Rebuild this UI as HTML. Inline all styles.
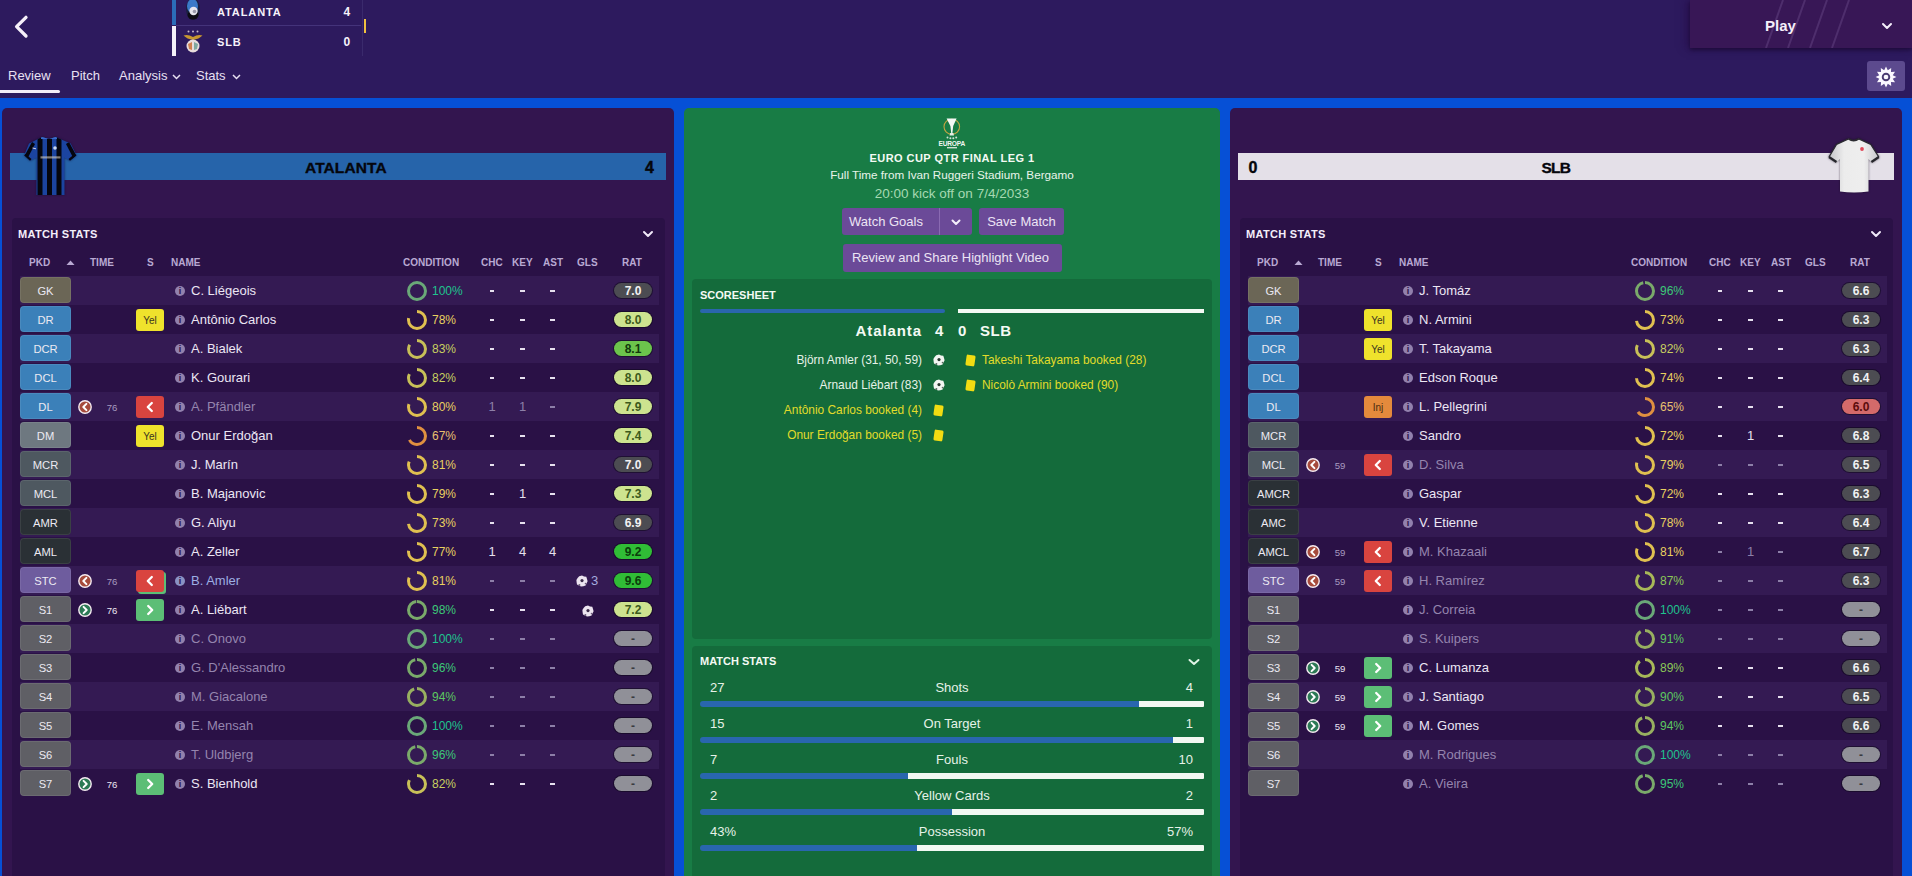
<!DOCTYPE html>
<html><head><meta charset="utf-8"><style>
*{margin:0;padding:0}
html,body{width:1912px;height:876px;overflow:hidden}
body{position:relative;background:#2d1a5e;font-family:"Liberation Sans",sans-serif;color:#ece6f4}
.ab{position:absolute}
.bd{position:absolute;width:51px;height:26px;border-radius:4px;font-size:11.2px;line-height:28px;text-align:center;color:#eceaf2;box-shadow:inset 0 0 0 1px rgba(255,255,255,0.08)}
.tm{position:absolute;width:24px;height:29px;line-height:29px;font-size:9.6px;text-align:center;color:#b0a4c6}
.sb{position:absolute;width:28px;height:22px;border-radius:3px;font-size:10px;line-height:24px;text-align:center}
.sb svg{display:block}
.inf{position:absolute;width:10px;height:10px;border-radius:50%;background:#9281ad;color:#2a1146;font-size:9px;font-weight:bold;line-height:10px;text-align:center}
.nm{position:absolute;height:29px;line-height:29px;font-size:13px;white-space:nowrap}
.cd{position:absolute;height:29px;line-height:29px;font-size:12px;white-space:nowrap}
.st{position:absolute;width:30px;height:29px;line-height:29px;font-size:13px;text-align:center}
.pl{position:absolute;width:38px;height:15px;border-radius:8px;font-size:12px;font-weight:bold;line-height:17px;text-align:center;box-shadow:0 0 0 1px rgba(10,5,20,0.5)}
.hd{position:absolute;font-size:11px;font-weight:bold;line-height:16px;color:#f4eefa;white-space:nowrap;letter-spacing:0.3px}
.ev{position:absolute;left:684px;width:238px;text-align:right;font-size:11.9px;line-height:16px;white-space:nowrap}
.evr{position:absolute;left:982px;font-size:11.9px;line-height:16px;white-space:nowrap}
.ch{position:absolute;font-size:10px;font-weight:bold;line-height:14px;color:#b9a9d3;white-space:nowrap}
</style></head><body>
<!-- header -->
<svg class="ab" style="left:12px;top:14px" width="18" height="26" viewBox="0 0 18 26"><path d="M14 3.3 L4.6 12.6 L14 22" fill="none" stroke="#f6f0fa" stroke-width="3.3" stroke-linecap="round" stroke-linejoin="round"/></svg>
<div class="ab" style="left:172px;top:0;width:4px;height:25px;background:#2b6cb8"></div>
<div class="ab" style="left:172px;top:26px;width:4px;height:30px;background:#f4f0f8"></div>
<div class="ab" style="left:176px;top:25px;width:185px;height:1px;background:#44337a"></div>
<div class="ab" style="left:362px;top:0;width:1px;height:56px;background:#3a2a6c"></div>
<div class="ab" style="left:364px;top:19px;width:2px;height:14px;background:#f0c040"></div>
<svg class="ab" style="left:184px;top:0" width="18" height="22" viewBox="0 0 18 22">
<ellipse cx="9" cy="9" rx="7" ry="11" fill="#1a2040"/>
<ellipse cx="8.5" cy="6" rx="5.5" ry="7" fill="#3a7ac8"/>
<ellipse cx="9" cy="15" rx="5.5" ry="4.5" fill="#0c0c14"/>
<circle cx="9.5" cy="11" r="4.2" fill="#e6e6ee"/>
<circle cx="10.5" cy="11.5" r="1.8" fill="#9a9aaa"/>
</svg>
<svg class="ab" style="left:182px;top:29px" width="22" height="25" viewBox="0 0 22 25">
<circle cx="6.5" cy="2.5" r="1" fill="#c8b8c8"/><circle cx="11" cy="2.5" r="1" fill="#c8b8c8"/><circle cx="15.5" cy="2.5" r="1" fill="#c8b8c8"/>
<path d="M1.5 6.5 Q6 5 11 8 Q16 5 20.5 6.5 Q17 10 11 11 Q5 10 1.5 6.5 Z" fill="#c89830"/>
<circle cx="11" cy="17" r="6.5" fill="#e8dcdc"/>
<path d="M6 15 L10 13 L10 21 L7 20 Z" fill="#d08050"/>
<path d="M12 13 L16 15 L15 20 L12 21 Z" fill="#80a8a0"/>
</svg>
<div class="ab" style="left:217px;top:4.2px;font-size:11px;font-weight:bold;line-height:16px;color:#f6f2fa;letter-spacing:0.9px">ATALANTA</div>
<div class="ab" style="left:217px;top:34.4px;font-size:11px;font-weight:bold;line-height:16px;color:#f6f2fa;letter-spacing:0.9px">SLB</div>
<div class="ab" style="left:343.5px;top:4.1px;font-size:12px;font-weight:bold;line-height:16px;color:#f6f2fa">4</div>
<div class="ab" style="left:343.5px;top:34.4px;font-size:12px;font-weight:bold;line-height:16px;color:#f6f2fa">0</div>
<div class="ab" style="left:8px;top:67px;font-size:13px;line-height:18px;color:#e8e0f2">Review</div>
<div class="ab" style="left:0;top:90px;width:60px;height:3px;background:#f4eefa;border-radius:0 2px 2px 0"></div>
<div class="ab" style="left:71px;top:67px;font-size:13px;line-height:18px;color:#e8e0f2">Pitch</div>
<div class="ab" style="left:119px;top:67px;font-size:13px;line-height:18px;color:#e8e0f2">Analysis</div>
<svg class="ab" style="left:172px;top:74px" width="9" height="6" viewBox="0 0 9 6"><path d="M1 1 L4.5 4.5 L8 1" fill="none" stroke="#e8e0f2" stroke-width="1.5"/></svg>
<div class="ab" style="left:196px;top:67px;font-size:13px;line-height:18px;color:#e8e0f2">Stats</div>
<svg class="ab" style="left:232px;top:74px" width="9" height="6" viewBox="0 0 9 6"><path d="M1 1 L4.5 4.5 L8 1" fill="none" stroke="#e8e0f2" stroke-width="1.5"/></svg>
<!-- play box -->
<div class="ab" style="left:1690px;top:0;width:222px;height:48px;background:#381756;box-shadow:0 2px 4px rgba(20,5,40,0.6),-4px 0 8px rgba(40,10,70,0.5);overflow:hidden">
<svg width="222" height="48"><g stroke="rgba(190,160,225,0.17)" stroke-width="2"><line x1="76" y1="48" x2="93" y2="0"/><line x1="98" y1="48" x2="115" y2="0"/><line x1="120" y1="48" x2="137" y2="0"/><line x1="142" y1="48" x2="159" y2="0"/></g></svg>
</div>
<div class="ab" style="left:1765px;top:17px;font-size:15px;font-weight:bold;line-height:18px;color:#f4eefa">Play</div>
<svg class="ab" style="left:1881px;top:21px" width="12" height="10" viewBox="0 0 12 10"><path d="M2 3 L6 7 L10 3" fill="none" stroke="#f4eefa" stroke-width="2" stroke-linecap="round" stroke-linejoin="round"/></svg>
<div class="ab" style="left:1867px;top:61px;width:38px;height:30px;border-radius:3px;background:#5c4a8e"></div>
<svg class="ab" style="left:1875px;top:65.5px" width="22" height="22" viewBox="0 0 22 22"><path id="gear" fill="#fbf8ff" d="M11.00 0.60 L12.81 4.24 L16.20 1.99 L15.95 6.05 L20.01 5.80 L17.76 9.19 L21.40 11.00 L17.76 12.81 L20.01 16.20 L15.95 15.95 L16.20 20.01 L12.81 17.76 L11.00 21.40 L9.19 17.76 L5.80 20.01 L6.05 15.95 L1.99 16.20 L4.24 12.81 L0.60 11.00 L4.24 9.19 L1.99 5.80 L6.05 6.05 L5.80 1.99 L9.19 4.24 Z"/><circle cx="11" cy="11" r="3.3" fill="none" stroke="#4a3a72" stroke-width="1.9"/></svg>
<!-- blue band -->
<div class="ab" style="left:0;top:98px;width:1912px;height:778px;background:#0650d6"></div>
<!-- left panel -->
<div class="ab" style="left:2px;top:108px;width:672px;height:780px;background:#33154f;border-radius:5px"></div>
<div class="ab" style="left:10px;top:153px;width:656px;height:27px;background:#2664aa"></div>
<div class="ab" style="left:305px;top:158.7px;font-size:15.5px;font-weight:bold;line-height:18px;color:#05060c;letter-spacing:0.1px;-webkit-text-stroke:0.35px #05060c">ATALANTA</div>
<div class="ab" style="left:645px;top:158.9px;font-size:16px;font-weight:bold;line-height:18px;color:#05060c;-webkit-text-stroke:0.4px #05060c">4</div>
<div class="ab" style="left:12px;top:218px;width:653px;height:700px;background:#2a1146;border-radius:4px"></div>
<div class="hd" style="left:18px;top:226px">MATCH STATS</div>
<svg class="ab" style="left:642px;top:229px" width="12" height="10" viewBox="0 0 12 10"><path d="M2 3 L6 7 L10 3" fill="none" stroke="#f0e8f8" stroke-width="2" stroke-linecap="round" stroke-linejoin="round"/></svg>
<div class="ch" style="left:29px;top:256px">PKD</div>
<div class="ch" style="left:90px;top:256px">TIME</div>
<div class="ch" style="left:147px;top:256px">S</div>
<div class="ch" style="left:171px;top:256px">NAME</div>
<div class="ch" style="left:403px;top:256px">CONDITION</div>
<div class="ch" style="left:481px;top:256px">CHC</div>
<div class="ch" style="left:512px;top:256px">KEY</div>
<div class="ch" style="left:543px;top:256px">AST</div>
<div class="ch" style="left:577px;top:256px">GLS</div>
<div class="ch" style="left:622px;top:256px">RAT</div>
<svg class="ab" style="left:66px;top:259px" width="9" height="7" viewBox="0 0 9 7"><path d="M0.5 6 L4.5 1.5 L8.5 6 Z" fill="#b9a9d3"/></svg>
<div class="ab" style="left:20px;top:276px;width:639px;height:29px;background:#341a53"></div>
<div class="bd" style="left:20px;top:277px;background:#6b6656">GK</div>
<div class="inf" style="left:175px;top:285.5px">i</div>
<div class="nm" style="left:191px;top:276px;color:#ece6f4">C. Liégeois</div>
<svg class="ab" style="left:407px;top:280.5px" width="20" height="20" viewBox="0 0 20 20"><circle cx="10" cy="10" r="8.5" fill="none" stroke="#6aa878" stroke-width="3" stroke-dasharray="53.41 53.41" transform="rotate(-90 10 10)"/></svg>
<div class="cd" style="left:432px;top:276.8px;color:#1fc38e">100%</div>
<div class="ab" style="left:489.8px;top:290.3px;width:4.5px;height:1.4px;background:#e6e0ee"></div>
<div class="ab" style="left:520.3px;top:290.3px;width:4.5px;height:1.4px;background:#e6e0ee"></div>
<div class="ab" style="left:550.3px;top:290.3px;width:4.5px;height:1.4px;background:#e6e0ee"></div>
<div class="pl" style="left:614px;top:283px;background:#4c4c52;color:#f2f2f2">7.0</div>
<div class="bd" style="left:20px;top:306px;background:#3b80b9">DR</div>
<div class="sb" style="left:136px;top:309px;background:#efe22c;color:#3a3520">Yel</div>
<div class="inf" style="left:175px;top:314.5px">i</div>
<div class="nm" style="left:191px;top:305px;color:#ece6f4">Antônio Carlos</div>
<svg class="ab" style="left:407px;top:309.5px" width="20" height="20" viewBox="0 0 20 20"><circle cx="10" cy="10" r="8.5" fill="none" stroke="#e0c050" stroke-width="3" stroke-dasharray="41.66 53.41" transform="rotate(-90 10 10)"/></svg>
<div class="cd" style="left:432px;top:305.8px;color:#e8d060">78%</div>
<div class="ab" style="left:489.8px;top:319.3px;width:4.5px;height:1.4px;background:#e6e0ee"></div>
<div class="ab" style="left:520.3px;top:319.3px;width:4.5px;height:1.4px;background:#e6e0ee"></div>
<div class="ab" style="left:550.3px;top:319.3px;width:4.5px;height:1.4px;background:#e6e0ee"></div>
<div class="pl" style="left:614px;top:312px;background:#cde38f;color:#3d5a1c">8.0</div>
<div class="ab" style="left:20px;top:334px;width:639px;height:29px;background:#341a53"></div>
<div class="bd" style="left:20px;top:335px;background:#3b80b9">DCR</div>
<div class="inf" style="left:175px;top:343.5px">i</div>
<div class="nm" style="left:191px;top:334px;color:#ece6f4">A. Bialek</div>
<svg class="ab" style="left:407px;top:338.5px" width="20" height="20" viewBox="0 0 20 20"><circle cx="10" cy="10" r="8.5" fill="none" stroke="#c8c058" stroke-width="3" stroke-dasharray="44.33 53.41" transform="rotate(-90 10 10)"/></svg>
<div class="cd" style="left:432px;top:334.8px;color:#c8d060">83%</div>
<div class="ab" style="left:489.8px;top:348.3px;width:4.5px;height:1.4px;background:#e6e0ee"></div>
<div class="ab" style="left:520.3px;top:348.3px;width:4.5px;height:1.4px;background:#e6e0ee"></div>
<div class="ab" style="left:550.3px;top:348.3px;width:4.5px;height:1.4px;background:#e6e0ee"></div>
<div class="pl" style="left:614px;top:341px;background:#6cc44c;color:#12380c">8.1</div>
<div class="bd" style="left:20px;top:364px;background:#3b80b9">DCL</div>
<div class="inf" style="left:175px;top:372.5px">i</div>
<div class="nm" style="left:191px;top:363px;color:#ece6f4">K. Gourari</div>
<svg class="ab" style="left:407px;top:367.5px" width="20" height="20" viewBox="0 0 20 20"><circle cx="10" cy="10" r="8.5" fill="none" stroke="#c8c058" stroke-width="3" stroke-dasharray="43.79 53.41" transform="rotate(-90 10 10)"/></svg>
<div class="cd" style="left:432px;top:363.8px;color:#c8d060">82%</div>
<div class="ab" style="left:489.8px;top:377.3px;width:4.5px;height:1.4px;background:#e6e0ee"></div>
<div class="ab" style="left:520.3px;top:377.3px;width:4.5px;height:1.4px;background:#e6e0ee"></div>
<div class="ab" style="left:550.3px;top:377.3px;width:4.5px;height:1.4px;background:#e6e0ee"></div>
<div class="pl" style="left:614px;top:370px;background:#cde38f;color:#3d5a1c">8.0</div>
<div class="ab" style="left:20px;top:392px;width:639px;height:29px;background:#341a53"></div>
<div class="bd" style="left:20px;top:393px;background:#3b80b9">DL</div>
<svg class="ab" style="left:78px;top:399.5px" width="14" height="14" viewBox="0 0 14 14"><circle cx="7" cy="7" r="6.2" fill="#a64b3c" stroke="#f4eaf0" stroke-width="1.4"/><path d="M8.4 3.9 L5.3 7 L8.4 10.1" fill="none" stroke="#fff" stroke-width="2" stroke-linecap="round" stroke-linejoin="round"/></svg>
<div class="tm" style="left:100px;top:392.5px;color:#a89ac0">76</div>
<div class="sb" style="left:136px;top:396px;background:#d9443f"><svg width="28" height="22" viewBox="0 0 28 22"><path d="M15.8 7 L11.8 11 L15.8 15" fill="none" stroke="#fff" stroke-width="2.3" stroke-linecap="round" stroke-linejoin="round"/></svg></div>
<div class="inf" style="left:175px;top:401.5px">i</div>
<div class="nm" style="left:191px;top:392px;color:#9585ae">A. Pfändler</div>
<svg class="ab" style="left:407px;top:396.5px" width="20" height="20" viewBox="0 0 20 20"><circle cx="10" cy="10" r="8.5" fill="none" stroke="#e0c050" stroke-width="3" stroke-dasharray="42.73 53.41" transform="rotate(-90 10 10)"/></svg>
<div class="cd" style="left:432px;top:392.8px;color:#e8d060">80%</div>
<div class="st" style="left:477px;top:392px;color:#8d7fa8">1</div>
<div class="st" style="left:507.5px;top:392px;color:#8d7fa8">1</div>
<div class="ab" style="left:550.3px;top:406.3px;width:4.5px;height:1.4px;background:#8d7fa8"></div>
<div class="pl" style="left:614px;top:399px;background:#cde38f;color:#3d5a1c">7.9</div>
<div class="bd" style="left:20px;top:422px;background:#6e7880">DM</div>
<div class="sb" style="left:136px;top:425px;background:#efe22c;color:#3a3520">Yel</div>
<div class="inf" style="left:175px;top:430.5px">i</div>
<div class="nm" style="left:191px;top:421px;color:#ece6f4">Onur Erdoğan</div>
<svg class="ab" style="left:407px;top:425.5px" width="20" height="20" viewBox="0 0 20 20"><circle cx="10" cy="10" r="8.5" fill="none" stroke="#e09040" stroke-width="3" stroke-dasharray="35.78 53.41" transform="rotate(-90 10 10)"/></svg>
<div class="cd" style="left:432px;top:421.8px;color:#e8c070">67%</div>
<div class="ab" style="left:489.8px;top:435.3px;width:4.5px;height:1.4px;background:#e6e0ee"></div>
<div class="ab" style="left:520.3px;top:435.3px;width:4.5px;height:1.4px;background:#e6e0ee"></div>
<div class="ab" style="left:550.3px;top:435.3px;width:4.5px;height:1.4px;background:#e6e0ee"></div>
<div class="pl" style="left:614px;top:428px;background:#cde38f;color:#3d5a1c">7.4</div>
<div class="ab" style="left:20px;top:450px;width:639px;height:29px;background:#341a53"></div>
<div class="bd" style="left:20px;top:451px;background:#4e5860">MCR</div>
<div class="inf" style="left:175px;top:459.5px">i</div>
<div class="nm" style="left:191px;top:450px;color:#ece6f4">J. Marín</div>
<svg class="ab" style="left:407px;top:454.5px" width="20" height="20" viewBox="0 0 20 20"><circle cx="10" cy="10" r="8.5" fill="none" stroke="#e0c050" stroke-width="3" stroke-dasharray="43.26 53.41" transform="rotate(-90 10 10)"/></svg>
<div class="cd" style="left:432px;top:450.8px;color:#e8d060">81%</div>
<div class="ab" style="left:489.8px;top:464.3px;width:4.5px;height:1.4px;background:#e6e0ee"></div>
<div class="ab" style="left:520.3px;top:464.3px;width:4.5px;height:1.4px;background:#e6e0ee"></div>
<div class="ab" style="left:550.3px;top:464.3px;width:4.5px;height:1.4px;background:#e6e0ee"></div>
<div class="pl" style="left:614px;top:457px;background:#4c4c52;color:#f2f2f2">7.0</div>
<div class="bd" style="left:20px;top:480px;background:#4e5860">MCL</div>
<div class="inf" style="left:175px;top:488.5px">i</div>
<div class="nm" style="left:191px;top:479px;color:#ece6f4">B. Majanovic</div>
<svg class="ab" style="left:407px;top:483.5px" width="20" height="20" viewBox="0 0 20 20"><circle cx="10" cy="10" r="8.5" fill="none" stroke="#e0c050" stroke-width="3" stroke-dasharray="42.19 53.41" transform="rotate(-90 10 10)"/></svg>
<div class="cd" style="left:432px;top:479.8px;color:#e8d060">79%</div>
<div class="ab" style="left:489.8px;top:493.3px;width:4.5px;height:1.4px;background:#e6e0ee"></div>
<div class="st" style="left:507.5px;top:479px;color:#e6e0ee">1</div>
<div class="ab" style="left:550.3px;top:493.3px;width:4.5px;height:1.4px;background:#e6e0ee"></div>
<div class="pl" style="left:614px;top:486px;background:#cde38f;color:#3d5a1c">7.3</div>
<div class="ab" style="left:20px;top:508px;width:639px;height:29px;background:#341a53"></div>
<div class="bd" style="left:20px;top:509px;background:#2a3035">AMR</div>
<div class="inf" style="left:175px;top:517.5px">i</div>
<div class="nm" style="left:191px;top:508px;color:#ece6f4">G. Aliyu</div>
<svg class="ab" style="left:407px;top:512.5px" width="20" height="20" viewBox="0 0 20 20"><circle cx="10" cy="10" r="8.5" fill="none" stroke="#e0c050" stroke-width="3" stroke-dasharray="38.99 53.41" transform="rotate(-90 10 10)"/></svg>
<div class="cd" style="left:432px;top:508.8px;color:#e8d060">73%</div>
<div class="ab" style="left:489.8px;top:522.3px;width:4.5px;height:1.4px;background:#e6e0ee"></div>
<div class="ab" style="left:520.3px;top:522.3px;width:4.5px;height:1.4px;background:#e6e0ee"></div>
<div class="ab" style="left:550.3px;top:522.3px;width:4.5px;height:1.4px;background:#e6e0ee"></div>
<div class="pl" style="left:614px;top:515px;background:#4c4c52;color:#f2f2f2">6.9</div>
<div class="bd" style="left:20px;top:538px;background:#2a3035">AML</div>
<div class="inf" style="left:175px;top:546.5px">i</div>
<div class="nm" style="left:191px;top:537px;color:#ece6f4">A. Zeller</div>
<svg class="ab" style="left:407px;top:541.5px" width="20" height="20" viewBox="0 0 20 20"><circle cx="10" cy="10" r="8.5" fill="none" stroke="#e0c050" stroke-width="3" stroke-dasharray="41.12 53.41" transform="rotate(-90 10 10)"/></svg>
<div class="cd" style="left:432px;top:537.8px;color:#e8d060">77%</div>
<div class="st" style="left:477px;top:537px;color:#e6e0ee">1</div>
<div class="st" style="left:507.5px;top:537px;color:#e6e0ee">4</div>
<div class="st" style="left:537.5px;top:537px;color:#e6e0ee">4</div>
<div class="pl" style="left:614px;top:544px;background:#30bd36;color:#0b3d0b">9.2</div>
<div class="ab" style="left:20px;top:566px;width:639px;height:29px;background:#341a53"></div>
<div class="bd" style="left:20px;top:567px;background:#6e5c9e">STC</div>
<svg class="ab" style="left:78px;top:573.5px" width="14" height="14" viewBox="0 0 14 14"><circle cx="7" cy="7" r="6.2" fill="#a64b3c" stroke="#f4eaf0" stroke-width="1.4"/><path d="M8.4 3.9 L5.3 7 L8.4 10.1" fill="none" stroke="#fff" stroke-width="2" stroke-linecap="round" stroke-linejoin="round"/></svg>
<div class="tm" style="left:100px;top:566.5px;color:#a89ac0">76</div>
<div class="sb" style="left:138px;top:572px;background:#5cbe76"></div><div class="sb" style="left:136px;top:570px;background:#d9443f"><svg width="28" height="22" viewBox="0 0 28 22"><path d="M15.8 7 L11.8 11 L15.8 15" fill="none" stroke="#fff" stroke-width="2.3" stroke-linecap="round" stroke-linejoin="round"/></svg></div>
<div class="inf" style="left:175px;top:575.5px;background:#8a92c4">i</div>
<div class="nm" style="left:191px;top:566px;color:#9cafe4">B. Amler</div>
<svg class="ab" style="left:407px;top:570.5px" width="20" height="20" viewBox="0 0 20 20"><circle cx="10" cy="10" r="8.5" fill="none" stroke="#e0c050" stroke-width="3" stroke-dasharray="43.26 53.41" transform="rotate(-90 10 10)"/></svg>
<div class="cd" style="left:432px;top:566.8px;color:#e8d060">81%</div>
<div class="ab" style="left:489.8px;top:580.3px;width:4.5px;height:1.4px;background:#8d7fa8"></div>
<div class="ab" style="left:520.3px;top:580.3px;width:4.5px;height:1.4px;background:#8d7fa8"></div>
<div class="ab" style="left:550.3px;top:580.3px;width:4.5px;height:1.4px;background:#8d7fa8"></div>
<svg class="ab" style="left:576px;top:574.5px" width="12" height="12" viewBox="0 0 12 12"><path d="M6 0.6 L8 1.4 L10.3 1.7 L11 4 L11.6 6.2 L10.6 8.3 L9.6 10.5 L7.3 11.2 L5 11.6 L3 10.6 L1 9.5 L0.6 7.2 L0.4 5 L1.6 3 L3.2 1.2 Z" fill="#ece4f0"/><circle cx="6" cy="5.6" r="1.6" fill="#3a2a48"/><circle cx="3.4" cy="10" r="1" fill="#6a5a78"/><circle cx="9.6" cy="8.6" r="0.9" fill="#6a5a78"/></svg>
<div class="st" style="left:580px;top:566;width:30px;text-align:left;padding-left:11px;box-sizing:border-box;color:#a4acdf;top:566px">3</div>
<div class="pl" style="left:614px;top:573px;background:#30bd36;color:#0b3d0b">9.6</div>
<div class="bd" style="left:20px;top:596px;background:#5f5f65">S1</div>
<svg class="ab" style="left:78px;top:602.5px" width="14" height="14" viewBox="0 0 14 14"><circle cx="7" cy="7" r="6.2" fill="#2c7a55" stroke="#f4eaf0" stroke-width="1.4"/><path d="M5.6 3.9 L8.7 7 L5.6 10.1" fill="none" stroke="#fff" stroke-width="2" stroke-linecap="round" stroke-linejoin="round"/></svg>
<div class="tm" style="left:100px;top:595.5px;color:#ece6f2">76</div>
<div class="sb" style="left:136px;top:599px;background:#5cbe76"><svg width="28" height="22" viewBox="0 0 28 22"><path d="M12.2 7 L16.2 11 L12.2 15" fill="none" stroke="#fff" stroke-width="2.3" stroke-linecap="round" stroke-linejoin="round"/></svg></div>
<div class="inf" style="left:175px;top:604.5px">i</div>
<div class="nm" style="left:191px;top:595px;color:#ece6f4">A. Liébart</div>
<svg class="ab" style="left:407px;top:599.5px" width="20" height="20" viewBox="0 0 20 20"><circle cx="10" cy="10" r="8.5" fill="none" stroke="#7aaa6a" stroke-width="3" stroke-dasharray="52.34 53.41" transform="rotate(-90 10 10)"/></svg>
<div class="cd" style="left:432px;top:595.8px;color:#3cc878">98%</div>
<div class="ab" style="left:489.8px;top:609.3px;width:4.5px;height:1.4px;background:#e6e0ee"></div>
<div class="ab" style="left:520.3px;top:609.3px;width:4.5px;height:1.4px;background:#e6e0ee"></div>
<div class="ab" style="left:550.3px;top:609.3px;width:4.5px;height:1.4px;background:#e6e0ee"></div>
<svg class="ab" style="left:581.5px;top:604.5px" width="12" height="12" viewBox="0 0 12 12"><path d="M6 0.6 L8 1.4 L10.3 1.7 L11 4 L11.6 6.2 L10.6 8.3 L9.6 10.5 L7.3 11.2 L5 11.6 L3 10.6 L1 9.5 L0.6 7.2 L0.4 5 L1.6 3 L3.2 1.2 Z" fill="#ece4f0"/><circle cx="6" cy="5.6" r="1.6" fill="#3a2a48"/><circle cx="3.4" cy="10" r="1" fill="#6a5a78"/><circle cx="9.6" cy="8.6" r="0.9" fill="#6a5a78"/></svg>
<div class="pl" style="left:614px;top:602px;background:#cde38f;color:#3d5a1c">7.2</div>
<div class="ab" style="left:20px;top:624px;width:639px;height:29px;background:#341a53"></div>
<div class="bd" style="left:20px;top:625px;background:#5f5f65">S2</div>
<div class="inf" style="left:175px;top:633.5px">i</div>
<div class="nm" style="left:191px;top:624px;color:#9585ae">C. Onovo</div>
<svg class="ab" style="left:407px;top:628.5px" width="20" height="20" viewBox="0 0 20 20"><circle cx="10" cy="10" r="8.5" fill="none" stroke="#6aa878" stroke-width="3" stroke-dasharray="53.41 53.41" transform="rotate(-90 10 10)"/></svg>
<div class="cd" style="left:432px;top:624.8px;color:#1fc38e">100%</div>
<div class="ab" style="left:489.8px;top:638.3px;width:4.5px;height:1.4px;background:#8d7fa8"></div>
<div class="ab" style="left:520.3px;top:638.3px;width:4.5px;height:1.4px;background:#8d7fa8"></div>
<div class="ab" style="left:550.3px;top:638.3px;width:4.5px;height:1.4px;background:#8d7fa8"></div>
<div class="pl" style="left:614px;top:631px;background:#909098;color:#3a3a40">-</div>
<div class="bd" style="left:20px;top:654px;background:#5f5f65">S3</div>
<div class="inf" style="left:175px;top:662.5px">i</div>
<div class="nm" style="left:191px;top:653px;color:#9585ae">G. D'Alessandro</div>
<svg class="ab" style="left:407px;top:657.5px" width="20" height="20" viewBox="0 0 20 20"><circle cx="10" cy="10" r="8.5" fill="none" stroke="#7aaa6a" stroke-width="3" stroke-dasharray="51.27 53.41" transform="rotate(-90 10 10)"/></svg>
<div class="cd" style="left:432px;top:653.8px;color:#3cc878">96%</div>
<div class="ab" style="left:489.8px;top:667.3px;width:4.5px;height:1.4px;background:#8d7fa8"></div>
<div class="ab" style="left:520.3px;top:667.3px;width:4.5px;height:1.4px;background:#8d7fa8"></div>
<div class="ab" style="left:550.3px;top:667.3px;width:4.5px;height:1.4px;background:#8d7fa8"></div>
<div class="pl" style="left:614px;top:660px;background:#909098;color:#3a3a40">-</div>
<div class="ab" style="left:20px;top:682px;width:639px;height:29px;background:#341a53"></div>
<div class="bd" style="left:20px;top:683px;background:#5f5f65">S4</div>
<div class="inf" style="left:175px;top:691.5px">i</div>
<div class="nm" style="left:191px;top:682px;color:#9585ae">M. Giacalone</div>
<svg class="ab" style="left:407px;top:686.5px" width="20" height="20" viewBox="0 0 20 20"><circle cx="10" cy="10" r="8.5" fill="none" stroke="#98b060" stroke-width="3" stroke-dasharray="50.20 53.41" transform="rotate(-90 10 10)"/></svg>
<div class="cd" style="left:432px;top:682.8px;color:#5cc860">94%</div>
<div class="ab" style="left:489.8px;top:696.3px;width:4.5px;height:1.4px;background:#8d7fa8"></div>
<div class="ab" style="left:520.3px;top:696.3px;width:4.5px;height:1.4px;background:#8d7fa8"></div>
<div class="ab" style="left:550.3px;top:696.3px;width:4.5px;height:1.4px;background:#8d7fa8"></div>
<div class="pl" style="left:614px;top:689px;background:#909098;color:#3a3a40">-</div>
<div class="bd" style="left:20px;top:712px;background:#5f5f65">S5</div>
<div class="inf" style="left:175px;top:720.5px">i</div>
<div class="nm" style="left:191px;top:711px;color:#9585ae">E. Mensah</div>
<svg class="ab" style="left:407px;top:715.5px" width="20" height="20" viewBox="0 0 20 20"><circle cx="10" cy="10" r="8.5" fill="none" stroke="#6aa878" stroke-width="3" stroke-dasharray="53.41 53.41" transform="rotate(-90 10 10)"/></svg>
<div class="cd" style="left:432px;top:711.8px;color:#1fc38e">100%</div>
<div class="ab" style="left:489.8px;top:725.3px;width:4.5px;height:1.4px;background:#8d7fa8"></div>
<div class="ab" style="left:520.3px;top:725.3px;width:4.5px;height:1.4px;background:#8d7fa8"></div>
<div class="ab" style="left:550.3px;top:725.3px;width:4.5px;height:1.4px;background:#8d7fa8"></div>
<div class="pl" style="left:614px;top:718px;background:#909098;color:#3a3a40">-</div>
<div class="ab" style="left:20px;top:740px;width:639px;height:29px;background:#341a53"></div>
<div class="bd" style="left:20px;top:741px;background:#5f5f65">S6</div>
<div class="inf" style="left:175px;top:749.5px">i</div>
<div class="nm" style="left:191px;top:740px;color:#9585ae">T. Uldbjerg</div>
<svg class="ab" style="left:407px;top:744.5px" width="20" height="20" viewBox="0 0 20 20"><circle cx="10" cy="10" r="8.5" fill="none" stroke="#7aaa6a" stroke-width="3" stroke-dasharray="51.27 53.41" transform="rotate(-90 10 10)"/></svg>
<div class="cd" style="left:432px;top:740.8px;color:#3cc878">96%</div>
<div class="ab" style="left:489.8px;top:754.3px;width:4.5px;height:1.4px;background:#8d7fa8"></div>
<div class="ab" style="left:520.3px;top:754.3px;width:4.5px;height:1.4px;background:#8d7fa8"></div>
<div class="ab" style="left:550.3px;top:754.3px;width:4.5px;height:1.4px;background:#8d7fa8"></div>
<div class="pl" style="left:614px;top:747px;background:#909098;color:#3a3a40">-</div>
<div class="bd" style="left:20px;top:770px;background:#5f5f65">S7</div>
<svg class="ab" style="left:78px;top:776.5px" width="14" height="14" viewBox="0 0 14 14"><circle cx="7" cy="7" r="6.2" fill="#2c7a55" stroke="#f4eaf0" stroke-width="1.4"/><path d="M5.6 3.9 L8.7 7 L5.6 10.1" fill="none" stroke="#fff" stroke-width="2" stroke-linecap="round" stroke-linejoin="round"/></svg>
<div class="tm" style="left:100px;top:769.5px;color:#ece6f2">76</div>
<div class="sb" style="left:136px;top:773px;background:#5cbe76"><svg width="28" height="22" viewBox="0 0 28 22"><path d="M12.2 7 L16.2 11 L12.2 15" fill="none" stroke="#fff" stroke-width="2.3" stroke-linecap="round" stroke-linejoin="round"/></svg></div>
<div class="inf" style="left:175px;top:778.5px">i</div>
<div class="nm" style="left:191px;top:769px;color:#ece6f4">S. Bienhold</div>
<svg class="ab" style="left:407px;top:773.5px" width="20" height="20" viewBox="0 0 20 20"><circle cx="10" cy="10" r="8.5" fill="none" stroke="#c8c058" stroke-width="3" stroke-dasharray="43.79 53.41" transform="rotate(-90 10 10)"/></svg>
<div class="cd" style="left:432px;top:769.8px;color:#c8d060">82%</div>
<div class="ab" style="left:489.8px;top:783.3px;width:4.5px;height:1.4px;background:#e6e0ee"></div>
<div class="ab" style="left:520.3px;top:783.3px;width:4.5px;height:1.4px;background:#e6e0ee"></div>
<div class="ab" style="left:550.3px;top:783.3px;width:4.5px;height:1.4px;background:#e6e0ee"></div>
<div class="pl" style="left:614px;top:776px;background:#909098;color:#3a3a40">-</div>
<!-- right panel -->
<div class="ab" style="left:1230px;top:108px;width:672px;height:780px;background:#33154f;border-radius:5px"></div>
<div class="ab" style="left:1238px;top:153px;width:656px;height:27px;background:#e4e0e8"></div>
<div class="ab" style="left:1248.5px;top:158.9px;font-size:16px;font-weight:bold;line-height:18px;color:#05060c;-webkit-text-stroke:0.4px #05060c">0</div>
<div class="ab" style="left:1541.5px;top:158.7px;font-size:15.5px;font-weight:bold;line-height:18px;color:#05060c;letter-spacing:-0.8px;-webkit-text-stroke:0.35px #05060c">SLB</div>
<div class="ab" style="left:1240px;top:218px;width:653px;height:700px;background:#2a1146;border-radius:4px"></div>
<div class="hd" style="left:1246px;top:226px">MATCH STATS</div>
<svg class="ab" style="left:1870px;top:229px" width="12" height="10" viewBox="0 0 12 10"><path d="M2 3 L6 7 L10 3" fill="none" stroke="#f0e8f8" stroke-width="2" stroke-linecap="round" stroke-linejoin="round"/></svg>
<div class="ch" style="left:1257px;top:256px">PKD</div>
<div class="ch" style="left:1318px;top:256px">TIME</div>
<div class="ch" style="left:1375px;top:256px">S</div>
<div class="ch" style="left:1399px;top:256px">NAME</div>
<div class="ch" style="left:1631px;top:256px">CONDITION</div>
<div class="ch" style="left:1709px;top:256px">CHC</div>
<div class="ch" style="left:1740px;top:256px">KEY</div>
<div class="ch" style="left:1771px;top:256px">AST</div>
<div class="ch" style="left:1805px;top:256px">GLS</div>
<div class="ch" style="left:1850px;top:256px">RAT</div>
<svg class="ab" style="left:1294px;top:259px" width="9" height="7" viewBox="0 0 9 7"><path d="M0.5 6 L4.5 1.5 L8.5 6 Z" fill="#b9a9d3"/></svg>
<div class="ab" style="left:1248px;top:276px;width:639px;height:29px;background:#341a53"></div>
<div class="bd" style="left:1248px;top:277px;background:#6b6656">GK</div>
<div class="inf" style="left:1403px;top:285.5px">i</div>
<div class="nm" style="left:1419px;top:276px;color:#ece6f4">J. Tomáz</div>
<svg class="ab" style="left:1635px;top:280.5px" width="20" height="20" viewBox="0 0 20 20"><circle cx="10" cy="10" r="8.5" fill="none" stroke="#7aaa6a" stroke-width="3" stroke-dasharray="51.27 53.41" transform="rotate(-90 10 10)"/></svg>
<div class="cd" style="left:1660px;top:276.8px;color:#3cc878">96%</div>
<div class="ab" style="left:1717.8px;top:290.3px;width:4.5px;height:1.4px;background:#e6e0ee"></div>
<div class="ab" style="left:1748.3px;top:290.3px;width:4.5px;height:1.4px;background:#e6e0ee"></div>
<div class="ab" style="left:1778.3px;top:290.3px;width:4.5px;height:1.4px;background:#e6e0ee"></div>
<div class="pl" style="left:1842px;top:283px;background:#4c4c52;color:#f2f2f2">6.6</div>
<div class="bd" style="left:1248px;top:306px;background:#3b80b9">DR</div>
<div class="sb" style="left:1364px;top:309px;background:#efe22c;color:#3a3520">Yel</div>
<div class="inf" style="left:1403px;top:314.5px">i</div>
<div class="nm" style="left:1419px;top:305px;color:#ece6f4">N. Armini</div>
<svg class="ab" style="left:1635px;top:309.5px" width="20" height="20" viewBox="0 0 20 20"><circle cx="10" cy="10" r="8.5" fill="none" stroke="#e0c050" stroke-width="3" stroke-dasharray="38.99 53.41" transform="rotate(-90 10 10)"/></svg>
<div class="cd" style="left:1660px;top:305.8px;color:#e8d060">73%</div>
<div class="ab" style="left:1717.8px;top:319.3px;width:4.5px;height:1.4px;background:#e6e0ee"></div>
<div class="ab" style="left:1748.3px;top:319.3px;width:4.5px;height:1.4px;background:#e6e0ee"></div>
<div class="ab" style="left:1778.3px;top:319.3px;width:4.5px;height:1.4px;background:#e6e0ee"></div>
<div class="pl" style="left:1842px;top:312px;background:#4c4c52;color:#f2f2f2">6.3</div>
<div class="ab" style="left:1248px;top:334px;width:639px;height:29px;background:#341a53"></div>
<div class="bd" style="left:1248px;top:335px;background:#3b80b9">DCR</div>
<div class="sb" style="left:1364px;top:338px;background:#efe22c;color:#3a3520">Yel</div>
<div class="inf" style="left:1403px;top:343.5px">i</div>
<div class="nm" style="left:1419px;top:334px;color:#ece6f4">T. Takayama</div>
<svg class="ab" style="left:1635px;top:338.5px" width="20" height="20" viewBox="0 0 20 20"><circle cx="10" cy="10" r="8.5" fill="none" stroke="#c8c058" stroke-width="3" stroke-dasharray="43.79 53.41" transform="rotate(-90 10 10)"/></svg>
<div class="cd" style="left:1660px;top:334.8px;color:#c8d060">82%</div>
<div class="ab" style="left:1717.8px;top:348.3px;width:4.5px;height:1.4px;background:#e6e0ee"></div>
<div class="ab" style="left:1748.3px;top:348.3px;width:4.5px;height:1.4px;background:#e6e0ee"></div>
<div class="ab" style="left:1778.3px;top:348.3px;width:4.5px;height:1.4px;background:#e6e0ee"></div>
<div class="pl" style="left:1842px;top:341px;background:#4c4c52;color:#f2f2f2">6.3</div>
<div class="bd" style="left:1248px;top:364px;background:#3b80b9">DCL</div>
<div class="inf" style="left:1403px;top:372.5px">i</div>
<div class="nm" style="left:1419px;top:363px;color:#ece6f4">Edson Roque</div>
<svg class="ab" style="left:1635px;top:367.5px" width="20" height="20" viewBox="0 0 20 20"><circle cx="10" cy="10" r="8.5" fill="none" stroke="#e0c050" stroke-width="3" stroke-dasharray="39.52 53.41" transform="rotate(-90 10 10)"/></svg>
<div class="cd" style="left:1660px;top:363.8px;color:#e8d060">74%</div>
<div class="ab" style="left:1717.8px;top:377.3px;width:4.5px;height:1.4px;background:#e6e0ee"></div>
<div class="ab" style="left:1748.3px;top:377.3px;width:4.5px;height:1.4px;background:#e6e0ee"></div>
<div class="ab" style="left:1778.3px;top:377.3px;width:4.5px;height:1.4px;background:#e6e0ee"></div>
<div class="pl" style="left:1842px;top:370px;background:#4c4c52;color:#f2f2f2">6.4</div>
<div class="ab" style="left:1248px;top:392px;width:639px;height:29px;background:#341a53"></div>
<div class="bd" style="left:1248px;top:393px;background:#3b80b9">DL</div>
<div class="sb" style="left:1364px;top:396px;background:#e48a3c;color:#4a2a10">Inj</div>
<div class="inf" style="left:1403px;top:401.5px">i</div>
<div class="nm" style="left:1419px;top:392px;color:#ece6f4">L. Pellegrini</div>
<svg class="ab" style="left:1635px;top:396.5px" width="20" height="20" viewBox="0 0 20 20"><circle cx="10" cy="10" r="8.5" fill="none" stroke="#e09040" stroke-width="3" stroke-dasharray="34.71 53.41" transform="rotate(-90 10 10)"/></svg>
<div class="cd" style="left:1660px;top:392.8px;color:#e8c070">65%</div>
<div class="ab" style="left:1717.8px;top:406.3px;width:4.5px;height:1.4px;background:#e6e0ee"></div>
<div class="ab" style="left:1748.3px;top:406.3px;width:4.5px;height:1.4px;background:#e6e0ee"></div>
<div class="ab" style="left:1778.3px;top:406.3px;width:4.5px;height:1.4px;background:#e6e0ee"></div>
<div class="pl" style="left:1842px;top:399px;background:#d46a6a;color:#5a0c0c">6.0</div>
<div class="bd" style="left:1248px;top:422px;background:#4e5860">MCR</div>
<div class="inf" style="left:1403px;top:430.5px">i</div>
<div class="nm" style="left:1419px;top:421px;color:#ece6f4">Sandro</div>
<svg class="ab" style="left:1635px;top:425.5px" width="20" height="20" viewBox="0 0 20 20"><circle cx="10" cy="10" r="8.5" fill="none" stroke="#e0c050" stroke-width="3" stroke-dasharray="38.45 53.41" transform="rotate(-90 10 10)"/></svg>
<div class="cd" style="left:1660px;top:421.8px;color:#e8d060">72%</div>
<div class="ab" style="left:1717.8px;top:435.3px;width:4.5px;height:1.4px;background:#e6e0ee"></div>
<div class="st" style="left:1735.5px;top:421px;color:#e6e0ee">1</div>
<div class="ab" style="left:1778.3px;top:435.3px;width:4.5px;height:1.4px;background:#e6e0ee"></div>
<div class="pl" style="left:1842px;top:428px;background:#4c4c52;color:#f2f2f2">6.8</div>
<div class="ab" style="left:1248px;top:450px;width:639px;height:29px;background:#341a53"></div>
<div class="bd" style="left:1248px;top:451px;background:#4e5860">MCL</div>
<svg class="ab" style="left:1306px;top:457.5px" width="14" height="14" viewBox="0 0 14 14"><circle cx="7" cy="7" r="6.2" fill="#a64b3c" stroke="#f4eaf0" stroke-width="1.4"/><path d="M8.4 3.9 L5.3 7 L8.4 10.1" fill="none" stroke="#fff" stroke-width="2" stroke-linecap="round" stroke-linejoin="round"/></svg>
<div class="tm" style="left:1328px;top:450.5px;color:#a89ac0">59</div>
<div class="sb" style="left:1364px;top:454px;background:#d9443f"><svg width="28" height="22" viewBox="0 0 28 22"><path d="M15.8 7 L11.8 11 L15.8 15" fill="none" stroke="#fff" stroke-width="2.3" stroke-linecap="round" stroke-linejoin="round"/></svg></div>
<div class="inf" style="left:1403px;top:459.5px">i</div>
<div class="nm" style="left:1419px;top:450px;color:#9585ae">D. Silva</div>
<svg class="ab" style="left:1635px;top:454.5px" width="20" height="20" viewBox="0 0 20 20"><circle cx="10" cy="10" r="8.5" fill="none" stroke="#e0c050" stroke-width="3" stroke-dasharray="42.19 53.41" transform="rotate(-90 10 10)"/></svg>
<div class="cd" style="left:1660px;top:450.8px;color:#e8d060">79%</div>
<div class="ab" style="left:1717.8px;top:464.3px;width:4.5px;height:1.4px;background:#8d7fa8"></div>
<div class="ab" style="left:1748.3px;top:464.3px;width:4.5px;height:1.4px;background:#8d7fa8"></div>
<div class="ab" style="left:1778.3px;top:464.3px;width:4.5px;height:1.4px;background:#8d7fa8"></div>
<div class="pl" style="left:1842px;top:457px;background:#4c4c52;color:#f2f2f2">6.5</div>
<div class="bd" style="left:1248px;top:480px;background:#2a3035">AMCR</div>
<div class="inf" style="left:1403px;top:488.5px">i</div>
<div class="nm" style="left:1419px;top:479px;color:#ece6f4">Gaspar</div>
<svg class="ab" style="left:1635px;top:483.5px" width="20" height="20" viewBox="0 0 20 20"><circle cx="10" cy="10" r="8.5" fill="none" stroke="#e0c050" stroke-width="3" stroke-dasharray="38.45 53.41" transform="rotate(-90 10 10)"/></svg>
<div class="cd" style="left:1660px;top:479.8px;color:#e8d060">72%</div>
<div class="ab" style="left:1717.8px;top:493.3px;width:4.5px;height:1.4px;background:#e6e0ee"></div>
<div class="ab" style="left:1748.3px;top:493.3px;width:4.5px;height:1.4px;background:#e6e0ee"></div>
<div class="ab" style="left:1778.3px;top:493.3px;width:4.5px;height:1.4px;background:#e6e0ee"></div>
<div class="pl" style="left:1842px;top:486px;background:#4c4c52;color:#f2f2f2">6.3</div>
<div class="ab" style="left:1248px;top:508px;width:639px;height:29px;background:#341a53"></div>
<div class="bd" style="left:1248px;top:509px;background:#2a3035">AMC</div>
<div class="inf" style="left:1403px;top:517.5px">i</div>
<div class="nm" style="left:1419px;top:508px;color:#ece6f4">V. Etienne</div>
<svg class="ab" style="left:1635px;top:512.5px" width="20" height="20" viewBox="0 0 20 20"><circle cx="10" cy="10" r="8.5" fill="none" stroke="#e0c050" stroke-width="3" stroke-dasharray="41.66 53.41" transform="rotate(-90 10 10)"/></svg>
<div class="cd" style="left:1660px;top:508.8px;color:#e8d060">78%</div>
<div class="ab" style="left:1717.8px;top:522.3px;width:4.5px;height:1.4px;background:#e6e0ee"></div>
<div class="ab" style="left:1748.3px;top:522.3px;width:4.5px;height:1.4px;background:#e6e0ee"></div>
<div class="ab" style="left:1778.3px;top:522.3px;width:4.5px;height:1.4px;background:#e6e0ee"></div>
<div class="pl" style="left:1842px;top:515px;background:#4c4c52;color:#f2f2f2">6.4</div>
<div class="bd" style="left:1248px;top:538px;background:#2a3035">AMCL</div>
<svg class="ab" style="left:1306px;top:544.5px" width="14" height="14" viewBox="0 0 14 14"><circle cx="7" cy="7" r="6.2" fill="#a64b3c" stroke="#f4eaf0" stroke-width="1.4"/><path d="M8.4 3.9 L5.3 7 L8.4 10.1" fill="none" stroke="#fff" stroke-width="2" stroke-linecap="round" stroke-linejoin="round"/></svg>
<div class="tm" style="left:1328px;top:537.5px;color:#a89ac0">59</div>
<div class="sb" style="left:1364px;top:541px;background:#d9443f"><svg width="28" height="22" viewBox="0 0 28 22"><path d="M15.8 7 L11.8 11 L15.8 15" fill="none" stroke="#fff" stroke-width="2.3" stroke-linecap="round" stroke-linejoin="round"/></svg></div>
<div class="inf" style="left:1403px;top:546.5px">i</div>
<div class="nm" style="left:1419px;top:537px;color:#9585ae">M. Khazaali</div>
<svg class="ab" style="left:1635px;top:541.5px" width="20" height="20" viewBox="0 0 20 20"><circle cx="10" cy="10" r="8.5" fill="none" stroke="#e0c050" stroke-width="3" stroke-dasharray="43.26 53.41" transform="rotate(-90 10 10)"/></svg>
<div class="cd" style="left:1660px;top:537.8px;color:#e8d060">81%</div>
<div class="ab" style="left:1717.8px;top:551.3px;width:4.5px;height:1.4px;background:#8d7fa8"></div>
<div class="st" style="left:1735.5px;top:537px;color:#8d7fa8">1</div>
<div class="ab" style="left:1778.3px;top:551.3px;width:4.5px;height:1.4px;background:#8d7fa8"></div>
<div class="pl" style="left:1842px;top:544px;background:#4c4c52;color:#f2f2f2">6.7</div>
<div class="ab" style="left:1248px;top:566px;width:639px;height:29px;background:#341a53"></div>
<div class="bd" style="left:1248px;top:567px;background:#6e5c9e">STC</div>
<svg class="ab" style="left:1306px;top:573.5px" width="14" height="14" viewBox="0 0 14 14"><circle cx="7" cy="7" r="6.2" fill="#a64b3c" stroke="#f4eaf0" stroke-width="1.4"/><path d="M8.4 3.9 L5.3 7 L8.4 10.1" fill="none" stroke="#fff" stroke-width="2" stroke-linecap="round" stroke-linejoin="round"/></svg>
<div class="tm" style="left:1328px;top:566.5px;color:#a89ac0">59</div>
<div class="sb" style="left:1364px;top:570px;background:#d9443f"><svg width="28" height="22" viewBox="0 0 28 22"><path d="M15.8 7 L11.8 11 L15.8 15" fill="none" stroke="#fff" stroke-width="2.3" stroke-linecap="round" stroke-linejoin="round"/></svg></div>
<div class="inf" style="left:1403px;top:575.5px">i</div>
<div class="nm" style="left:1419px;top:566px;color:#9585ae">H. Ramírez</div>
<svg class="ab" style="left:1635px;top:570.5px" width="20" height="20" viewBox="0 0 20 20"><circle cx="10" cy="10" r="8.5" fill="none" stroke="#a8b858" stroke-width="3" stroke-dasharray="46.46 53.41" transform="rotate(-90 10 10)"/></svg>
<div class="cd" style="left:1660px;top:566.8px;color:#8cc858">87%</div>
<div class="ab" style="left:1717.8px;top:580.3px;width:4.5px;height:1.4px;background:#8d7fa8"></div>
<div class="ab" style="left:1748.3px;top:580.3px;width:4.5px;height:1.4px;background:#8d7fa8"></div>
<div class="ab" style="left:1778.3px;top:580.3px;width:4.5px;height:1.4px;background:#8d7fa8"></div>
<div class="pl" style="left:1842px;top:573px;background:#4c4c52;color:#f2f2f2">6.3</div>
<div class="bd" style="left:1248px;top:596px;background:#5f5f65">S1</div>
<div class="inf" style="left:1403px;top:604.5px">i</div>
<div class="nm" style="left:1419px;top:595px;color:#9585ae">J. Correia</div>
<svg class="ab" style="left:1635px;top:599.5px" width="20" height="20" viewBox="0 0 20 20"><circle cx="10" cy="10" r="8.5" fill="none" stroke="#6aa878" stroke-width="3" stroke-dasharray="53.41 53.41" transform="rotate(-90 10 10)"/></svg>
<div class="cd" style="left:1660px;top:595.8px;color:#1fc38e">100%</div>
<div class="ab" style="left:1717.8px;top:609.3px;width:4.5px;height:1.4px;background:#8d7fa8"></div>
<div class="ab" style="left:1748.3px;top:609.3px;width:4.5px;height:1.4px;background:#8d7fa8"></div>
<div class="ab" style="left:1778.3px;top:609.3px;width:4.5px;height:1.4px;background:#8d7fa8"></div>
<div class="pl" style="left:1842px;top:602px;background:#909098;color:#3a3a40">-</div>
<div class="ab" style="left:1248px;top:624px;width:639px;height:29px;background:#341a53"></div>
<div class="bd" style="left:1248px;top:625px;background:#5f5f65">S2</div>
<div class="inf" style="left:1403px;top:633.5px">i</div>
<div class="nm" style="left:1419px;top:624px;color:#9585ae">S. Kuipers</div>
<svg class="ab" style="left:1635px;top:628.5px" width="20" height="20" viewBox="0 0 20 20"><circle cx="10" cy="10" r="8.5" fill="none" stroke="#98b060" stroke-width="3" stroke-dasharray="48.60 53.41" transform="rotate(-90 10 10)"/></svg>
<div class="cd" style="left:1660px;top:624.8px;color:#5cc860">91%</div>
<div class="ab" style="left:1717.8px;top:638.3px;width:4.5px;height:1.4px;background:#8d7fa8"></div>
<div class="ab" style="left:1748.3px;top:638.3px;width:4.5px;height:1.4px;background:#8d7fa8"></div>
<div class="ab" style="left:1778.3px;top:638.3px;width:4.5px;height:1.4px;background:#8d7fa8"></div>
<div class="pl" style="left:1842px;top:631px;background:#909098;color:#3a3a40">-</div>
<div class="bd" style="left:1248px;top:654px;background:#5f5f65">S3</div>
<svg class="ab" style="left:1306px;top:660.5px" width="14" height="14" viewBox="0 0 14 14"><circle cx="7" cy="7" r="6.2" fill="#2c7a55" stroke="#f4eaf0" stroke-width="1.4"/><path d="M5.6 3.9 L8.7 7 L5.6 10.1" fill="none" stroke="#fff" stroke-width="2" stroke-linecap="round" stroke-linejoin="round"/></svg>
<div class="tm" style="left:1328px;top:653.5px;color:#ece6f2">59</div>
<div class="sb" style="left:1364px;top:657px;background:#5cbe76"><svg width="28" height="22" viewBox="0 0 28 22"><path d="M12.2 7 L16.2 11 L12.2 15" fill="none" stroke="#fff" stroke-width="2.3" stroke-linecap="round" stroke-linejoin="round"/></svg></div>
<div class="inf" style="left:1403px;top:662.5px">i</div>
<div class="nm" style="left:1419px;top:653px;color:#ece6f4">C. Lumanza</div>
<svg class="ab" style="left:1635px;top:657.5px" width="20" height="20" viewBox="0 0 20 20"><circle cx="10" cy="10" r="8.5" fill="none" stroke="#a8b858" stroke-width="3" stroke-dasharray="47.53 53.41" transform="rotate(-90 10 10)"/></svg>
<div class="cd" style="left:1660px;top:653.8px;color:#8cc858">89%</div>
<div class="ab" style="left:1717.8px;top:667.3px;width:4.5px;height:1.4px;background:#e6e0ee"></div>
<div class="ab" style="left:1748.3px;top:667.3px;width:4.5px;height:1.4px;background:#e6e0ee"></div>
<div class="ab" style="left:1778.3px;top:667.3px;width:4.5px;height:1.4px;background:#e6e0ee"></div>
<div class="pl" style="left:1842px;top:660px;background:#4c4c52;color:#f2f2f2">6.6</div>
<div class="ab" style="left:1248px;top:682px;width:639px;height:29px;background:#341a53"></div>
<div class="bd" style="left:1248px;top:683px;background:#5f5f65">S4</div>
<svg class="ab" style="left:1306px;top:689.5px" width="14" height="14" viewBox="0 0 14 14"><circle cx="7" cy="7" r="6.2" fill="#2c7a55" stroke="#f4eaf0" stroke-width="1.4"/><path d="M5.6 3.9 L8.7 7 L5.6 10.1" fill="none" stroke="#fff" stroke-width="2" stroke-linecap="round" stroke-linejoin="round"/></svg>
<div class="tm" style="left:1328px;top:682.5px;color:#ece6f2">59</div>
<div class="sb" style="left:1364px;top:686px;background:#5cbe76"><svg width="28" height="22" viewBox="0 0 28 22"><path d="M12.2 7 L16.2 11 L12.2 15" fill="none" stroke="#fff" stroke-width="2.3" stroke-linecap="round" stroke-linejoin="round"/></svg></div>
<div class="inf" style="left:1403px;top:691.5px">i</div>
<div class="nm" style="left:1419px;top:682px;color:#ece6f4">J. Santiago</div>
<svg class="ab" style="left:1635px;top:686.5px" width="20" height="20" viewBox="0 0 20 20"><circle cx="10" cy="10" r="8.5" fill="none" stroke="#98b060" stroke-width="3" stroke-dasharray="48.07 53.41" transform="rotate(-90 10 10)"/></svg>
<div class="cd" style="left:1660px;top:682.8px;color:#5cc860">90%</div>
<div class="ab" style="left:1717.8px;top:696.3px;width:4.5px;height:1.4px;background:#e6e0ee"></div>
<div class="ab" style="left:1748.3px;top:696.3px;width:4.5px;height:1.4px;background:#e6e0ee"></div>
<div class="ab" style="left:1778.3px;top:696.3px;width:4.5px;height:1.4px;background:#e6e0ee"></div>
<div class="pl" style="left:1842px;top:689px;background:#4c4c52;color:#f2f2f2">6.5</div>
<div class="bd" style="left:1248px;top:712px;background:#5f5f65">S5</div>
<svg class="ab" style="left:1306px;top:718.5px" width="14" height="14" viewBox="0 0 14 14"><circle cx="7" cy="7" r="6.2" fill="#2c7a55" stroke="#f4eaf0" stroke-width="1.4"/><path d="M5.6 3.9 L8.7 7 L5.6 10.1" fill="none" stroke="#fff" stroke-width="2" stroke-linecap="round" stroke-linejoin="round"/></svg>
<div class="tm" style="left:1328px;top:711.5px;color:#ece6f2">59</div>
<div class="sb" style="left:1364px;top:715px;background:#5cbe76"><svg width="28" height="22" viewBox="0 0 28 22"><path d="M12.2 7 L16.2 11 L12.2 15" fill="none" stroke="#fff" stroke-width="2.3" stroke-linecap="round" stroke-linejoin="round"/></svg></div>
<div class="inf" style="left:1403px;top:720.5px">i</div>
<div class="nm" style="left:1419px;top:711px;color:#ece6f4">M. Gomes</div>
<svg class="ab" style="left:1635px;top:715.5px" width="20" height="20" viewBox="0 0 20 20"><circle cx="10" cy="10" r="8.5" fill="none" stroke="#98b060" stroke-width="3" stroke-dasharray="50.20 53.41" transform="rotate(-90 10 10)"/></svg>
<div class="cd" style="left:1660px;top:711.8px;color:#5cc860">94%</div>
<div class="ab" style="left:1717.8px;top:725.3px;width:4.5px;height:1.4px;background:#e6e0ee"></div>
<div class="ab" style="left:1748.3px;top:725.3px;width:4.5px;height:1.4px;background:#e6e0ee"></div>
<div class="ab" style="left:1778.3px;top:725.3px;width:4.5px;height:1.4px;background:#e6e0ee"></div>
<div class="pl" style="left:1842px;top:718px;background:#4c4c52;color:#f2f2f2">6.6</div>
<div class="ab" style="left:1248px;top:740px;width:639px;height:29px;background:#341a53"></div>
<div class="bd" style="left:1248px;top:741px;background:#5f5f65">S6</div>
<div class="inf" style="left:1403px;top:749.5px">i</div>
<div class="nm" style="left:1419px;top:740px;color:#9585ae">M. Rodrigues</div>
<svg class="ab" style="left:1635px;top:744.5px" width="20" height="20" viewBox="0 0 20 20"><circle cx="10" cy="10" r="8.5" fill="none" stroke="#6aa878" stroke-width="3" stroke-dasharray="53.41 53.41" transform="rotate(-90 10 10)"/></svg>
<div class="cd" style="left:1660px;top:740.8px;color:#1fc38e">100%</div>
<div class="ab" style="left:1717.8px;top:754.3px;width:4.5px;height:1.4px;background:#8d7fa8"></div>
<div class="ab" style="left:1748.3px;top:754.3px;width:4.5px;height:1.4px;background:#8d7fa8"></div>
<div class="ab" style="left:1778.3px;top:754.3px;width:4.5px;height:1.4px;background:#8d7fa8"></div>
<div class="pl" style="left:1842px;top:747px;background:#909098;color:#3a3a40">-</div>
<div class="bd" style="left:1248px;top:770px;background:#5f5f65">S7</div>
<div class="inf" style="left:1403px;top:778.5px">i</div>
<div class="nm" style="left:1419px;top:769px;color:#9585ae">A. Vieira</div>
<svg class="ab" style="left:1635px;top:773.5px" width="20" height="20" viewBox="0 0 20 20"><circle cx="10" cy="10" r="8.5" fill="none" stroke="#7aaa6a" stroke-width="3" stroke-dasharray="50.74 53.41" transform="rotate(-90 10 10)"/></svg>
<div class="cd" style="left:1660px;top:769.8px;color:#3cc878">95%</div>
<div class="ab" style="left:1717.8px;top:783.3px;width:4.5px;height:1.4px;background:#8d7fa8"></div>
<div class="ab" style="left:1748.3px;top:783.3px;width:4.5px;height:1.4px;background:#8d7fa8"></div>
<div class="ab" style="left:1778.3px;top:783.3px;width:4.5px;height:1.4px;background:#8d7fa8"></div>
<div class="pl" style="left:1842px;top:776px;background:#909098;color:#3a3a40">-</div>
<!-- center panel -->
<div class="ab" style="left:684px;top:108px;width:536px;height:780px;background:#187c45;border-radius:5px"></div>
<!-- europa logo -->
<svg class="ab" style="left:938px;top:116px" width="28" height="34" viewBox="0 0 28 34">
<ellipse cx="13.8" cy="10.8" rx="7.8" ry="7.6" fill="none" stroke="#c4a442" stroke-width="1.1"/>
<path d="M8.6 2.5 L18.6 2.5 L15.2 10 L14.4 17 L13.2 17 L12.4 10 Z" fill="#f4f8f4"/>
<path d="M12.2 17 L15.4 17 L16 19.5 L11.6 19.5 Z" fill="#e4eee6"/>
<g fill="#cfe2d4"><circle cx="9.5" cy="21.6" r="1"/><circle cx="12.4" cy="22.2" r="1"/><circle cx="15.3" cy="22.2" r="1"/><circle cx="18.2" cy="21.6" r="1"/></g>
<text x="13.8" y="30" text-anchor="middle" font-family="Liberation Sans" font-weight="bold" font-size="6.6" fill="#f2f6f2" letter-spacing="-0.2">EUROPA</text>
<rect x="9" y="31" width="10" height="1.4" fill="#cfe0d2"/>
</svg>
<div class="ab" style="left:684px;top:150px;width:536px;text-align:center;font-size:11px;font-weight:bold;line-height:16px;color:#f4faf4;letter-spacing:0.45px">EURO CUP QTR FINAL LEG 1</div>
<div class="ab" style="left:684px;top:167px;width:536px;text-align:center;font-size:11.7px;line-height:16px;color:#e8f4ea">Full Time from Ivan Ruggeri Stadium, Bergamo</div>
<div class="ab" style="left:684px;top:185px;width:536px;text-align:center;font-size:13.5px;line-height:18px;color:#a6d9b2">20:00 kick off on 7/4/2033</div>
<!-- buttons -->
<div class="ab" style="left:842px;top:208px;width:130px;height:27px;border-radius:3px;background:#6b4a98"></div>
<div class="ab" style="left:939px;top:208px;width:1px;height:27px;background:#8a6ab2"></div>
<div class="ab" style="left:849px;top:208px;font-size:13px;line-height:27px;color:#ece4f4">Watch Goals</div>
<svg class="ab" style="left:950px;top:217px" width="12" height="10" viewBox="0 0 12 10"><path d="M2.5 3.5 L6 7 L9.5 3.5" fill="none" stroke="#f4eefa" stroke-width="2" stroke-linecap="round" stroke-linejoin="round"/></svg>
<div class="ab" style="left:979px;top:208px;width:85px;height:27px;border-radius:3px;background:#6b4a98"></div>
<div class="ab" style="left:979px;top:208px;width:85px;text-align:center;font-size:13px;line-height:27px;color:#ece4f4">Save Match</div>
<div class="ab" style="left:843px;top:244px;width:219px;height:28px;border-radius:3px;background:#6b4a98"></div>
<div class="ab" style="left:841px;top:244px;width:219px;text-align:center;font-size:13px;line-height:28px;color:#ece4f4">Review and Share Highlight Video</div>
<!-- scoresheet -->
<div class="ab" style="left:692px;top:279px;width:520px;height:360px;border-radius:4px;background:#146b3b"></div>
<div class="ab" style="left:700px;top:287px;font-size:11px;font-weight:bold;line-height:16px;color:#f4faf4">SCORESHEET</div>
<div class="ab" style="left:700px;top:309px;width:245px;height:4px;background:#2a66ac;border-radius:2px"></div>
<div class="ab" style="left:958px;top:309px;width:246px;height:4px;background:#f4faf4"></div>
<div class="ab" style="left:700px;top:321px;width:222px;text-align:right;font-size:15px;font-weight:bold;line-height:20px;color:#f4faf4;letter-spacing:0.9px">Atalanta</div>
<div class="ab" style="left:935px;top:321px;font-size:15px;font-weight:bold;line-height:20px;color:#f4faf4">4</div>
<div class="ab" style="left:958px;top:321px;font-size:15px;font-weight:bold;line-height:20px;color:#f4faf4">0</div>
<div class="ab" style="left:980px;top:321px;font-size:15px;font-weight:bold;line-height:20px;color:#f4faf4;letter-spacing:0.6px">SLB</div>
<div class="ev" style="top:352px;color:#e6f2e8">Björn Amler (31, 50, 59)</div>
<div class="ev" style="top:377px;color:#e6f2e8">Arnaud Liébart (83)</div>
<div class="ev" style="top:402px;color:#e2dc2a">Antônio Carlos booked (4)</div>
<div class="ev" style="top:427px;color:#e2dc2a">Onur Erdoğan booked (5)</div>
<div class="evr" style="top:352px;color:#e2dc2a">Takeshi Takayama booked (28)</div>
<div class="evr" style="top:377px;color:#e2dc2a">Nicolò Armini booked (90)</div>
<svg class="ab" style="left:932.5px;top:354px" width="12" height="12" viewBox="0 0 12 12"><path d="M6 0.6 L8 1.4 L10.3 1.7 L11 4 L11.6 6.2 L10.6 8.3 L9.6 10.5 L7.3 11.2 L5 11.6 L3 10.6 L1 9.5 L0.6 7.2 L0.4 5 L1.6 3 L3.2 1.2 Z" fill="#f2f6f2"/><circle cx="6" cy="5.6" r="1.6" fill="#2a3a30"/><circle cx="3.4" cy="10" r="1" fill="#5a6a60"/><circle cx="9.6" cy="8.6" r="0.9" fill="#5a6a60"/></svg>
<svg class="ab" style="left:932.5px;top:379px" width="12" height="12" viewBox="0 0 12 12"><path d="M6 0.6 L8 1.4 L10.3 1.7 L11 4 L11.6 6.2 L10.6 8.3 L9.6 10.5 L7.3 11.2 L5 11.6 L3 10.6 L1 9.5 L0.6 7.2 L0.4 5 L1.6 3 L3.2 1.2 Z" fill="#f2f6f2"/><circle cx="6" cy="5.6" r="1.6" fill="#2a3a30"/><circle cx="3.4" cy="10" r="1" fill="#5a6a60"/><circle cx="9.6" cy="8.6" r="0.9" fill="#5a6a60"/></svg>
<div class="ab" style="left:933.5px;top:404.5px;width:9px;height:11px;background:#f2dc12;border-radius:1.5px;transform:rotate(8deg)"></div>
<div class="ab" style="left:933.5px;top:429.5px;width:9px;height:11px;background:#f2dc12;border-radius:1.5px;transform:rotate(8deg)"></div>
<div class="ab" style="left:965.5px;top:354.5px;width:9px;height:11px;background:#f2dc12;border-radius:1.5px;transform:rotate(8deg)"></div>
<div class="ab" style="left:965.5px;top:379.5px;width:9px;height:11px;background:#f2dc12;border-radius:1.5px;transform:rotate(8deg)"></div>
<!-- match stats -->
<div class="ab" style="left:692px;top:646px;width:520px;height:260px;border-radius:4px;background:#146b3b"></div>
<div class="ab" style="left:700px;top:653px;font-size:11px;font-weight:bold;line-height:16px;color:#f4faf4">MATCH STATS</div>
<svg class="ab" style="left:1188px;top:656.5px" width="12" height="10" viewBox="0 0 12 10"><path d="M1.5 3 L6 7 L10.5 3" fill="none" stroke="#e0f4e6" stroke-width="2" stroke-linecap="round" stroke-linejoin="round"/></svg>
<div class="ab" style="left:710px;top:679px;font-size:13px;line-height:18px;color:#e6f2e8">27</div>
<div class="ab" style="left:700px;top:679px;width:504px;text-align:center;font-size:13px;line-height:18px;color:#e6f2e8">Shots</div>
<div class="ab" style="left:1000px;top:679px;width:193px;text-align:right;font-size:13px;line-height:18px;color:#e6f2e8">4</div>
<div class="ab" style="left:1139.0px;top:701px;width:65.0px;height:6px;background:#f2f8f2;border-radius:0 1px 1px 0"></div>
<div class="ab" style="left:700px;top:701px;width:439.0px;height:5.8px;background:#2966ae;border-radius:3px 0 0 3px"></div>
<div class="ab" style="left:710px;top:715px;font-size:13px;line-height:18px;color:#e6f2e8">15</div>
<div class="ab" style="left:700px;top:715px;width:504px;text-align:center;font-size:13px;line-height:18px;color:#e6f2e8">On Target</div>
<div class="ab" style="left:1000px;top:715px;width:193px;text-align:right;font-size:13px;line-height:18px;color:#e6f2e8">1</div>
<div class="ab" style="left:1172.5px;top:737px;width:31.5px;height:6px;background:#f2f8f2;border-radius:0 1px 1px 0"></div>
<div class="ab" style="left:700px;top:737px;width:472.5px;height:5.8px;background:#2966ae;border-radius:3px 0 0 3px"></div>
<div class="ab" style="left:710px;top:751px;font-size:13px;line-height:18px;color:#e6f2e8">7</div>
<div class="ab" style="left:700px;top:751px;width:504px;text-align:center;font-size:13px;line-height:18px;color:#e6f2e8">Fouls</div>
<div class="ab" style="left:1000px;top:751px;width:193px;text-align:right;font-size:13px;line-height:18px;color:#e6f2e8">10</div>
<div class="ab" style="left:907.5px;top:773px;width:296.5px;height:6px;background:#f2f8f2;border-radius:0 1px 1px 0"></div>
<div class="ab" style="left:700px;top:773px;width:207.5px;height:5.8px;background:#2966ae;border-radius:3px 0 0 3px"></div>
<div class="ab" style="left:710px;top:787px;font-size:13px;line-height:18px;color:#e6f2e8">2</div>
<div class="ab" style="left:700px;top:787px;width:504px;text-align:center;font-size:13px;line-height:18px;color:#e6f2e8">Yellow Cards</div>
<div class="ab" style="left:1000px;top:787px;width:193px;text-align:right;font-size:13px;line-height:18px;color:#e6f2e8">2</div>
<div class="ab" style="left:952.0px;top:809px;width:252.0px;height:6px;background:#f2f8f2;border-radius:0 1px 1px 0"></div>
<div class="ab" style="left:700px;top:809px;width:252.0px;height:5.8px;background:#2966ae;border-radius:3px 0 0 3px"></div>
<div class="ab" style="left:710px;top:823px;font-size:13px;line-height:18px;color:#e6f2e8">43%</div>
<div class="ab" style="left:700px;top:823px;width:504px;text-align:center;font-size:13px;line-height:18px;color:#e6f2e8">Possession</div>
<div class="ab" style="left:1000px;top:823px;width:193px;text-align:right;font-size:13px;line-height:18px;color:#e6f2e8">57%</div>
<div class="ab" style="left:916.7px;top:845px;width:287.3px;height:6px;background:#f2f8f2;border-radius:0 1px 1px 0"></div>
<div class="ab" style="left:700px;top:845px;width:216.7px;height:5.8px;background:#2966ae;border-radius:3px 0 0 3px"></div>

<svg class="ab" style="left:23px;top:136px;filter:drop-shadow(0 0.5px 1px rgba(10,5,30,0.5))" width="55" height="61" viewBox="0 0 55 61">
<defs><clipPath id="shL"><path d="M19 1 L26 3 L32.5 1 L47.7 7.5 L53.7 19.5 L47 25 L41.5 21.5 L41.5 59 L13.5 59 L13.5 21.5 L7 25 L1 19.5 L6 7.5 Z"/></clipPath></defs>
<g clip-path="url(#shL)">
<rect x="0" y="0" width="55" height="61" fill="#1b44a0"/>
<rect x="14.5" y="0" width="5" height="61" fill="#05060e"/>
<rect x="24" y="0" width="5" height="61" fill="#05060e"/>
<rect x="33.5" y="0" width="5" height="61" fill="#05060e"/>
<path d="M9 6 L2 19 L5 21.5 L12 8 Z" fill="#05060e"/>
<path d="M46 6 L53 19 L50 21.5 L43 8 Z" fill="#05060e"/>
<path d="M1 19.5 L7 25 L8.5 23 L2.5 18 Z" fill="#05060e"/>
<path d="M53.7 19.5 L47 25 L45.5 23 L51.5 18 Z" fill="#05060e"/>
<rect x="18" y="1" width="16" height="2" fill="#3a6ac8"/>
</g>
<rect x="17.5" y="20.3" width="20" height="2.2" fill="#d8d0c0" opacity="0.6"/>
<path d="M9.5 12 L13 12.8" stroke="#e0e0f0" stroke-width="0.9"/>
<circle cx="32" cy="12" r="1.8" fill="#c8d8f0"/>
</svg>
<svg class="ab" style="left:1828px;top:137px;filter:drop-shadow(0 0.5px 1px rgba(20,10,30,0.55))" width="52" height="57" viewBox="0 0 52 57">
<defs><linearGradient id="gw" x1="0" x2="1" y1="0" y2="0"><stop offset="0" stop-color="#c4c4c8"/><stop offset="0.3" stop-color="#ececec"/><stop offset="0.7" stop-color="#eeeeee"/><stop offset="1" stop-color="#c8c8cc"/></linearGradient></defs>
<path d="M20.5 1.8 Q25.6 5.5 30.8 1.8 L42.8 7.5 L50.8 20 L43.4 25 L40.5 22 L40.5 54.5 Q26 56.5 12 54.5 L12 22 L8.5 25 L1 20 L8.5 7.5 Z" fill="url(#gw)"/>
<path d="M1 20 L8.5 25" stroke="#26262c" stroke-width="2.2" fill="none"/>
<path d="M50.8 20 L43.4 25" stroke="#26262c" stroke-width="2.2" fill="none"/>
<path d="M1 20 L8.5 7.5 L20.5 1.8" stroke="#2a2a30" stroke-width="1.3" fill="none"/>
<path d="M50.8 20 L42.8 7.5 L30.8 1.8" stroke="#2a2a30" stroke-width="1.3" fill="none"/>
<path d="M20.5 1.8 Q25.6 5.5 30.8 1.8" stroke="#2a2a30" stroke-width="1.8" fill="none"/>
<circle cx="34" cy="12" r="1.9" fill="#e04858"/>
</svg>

</body></html>
